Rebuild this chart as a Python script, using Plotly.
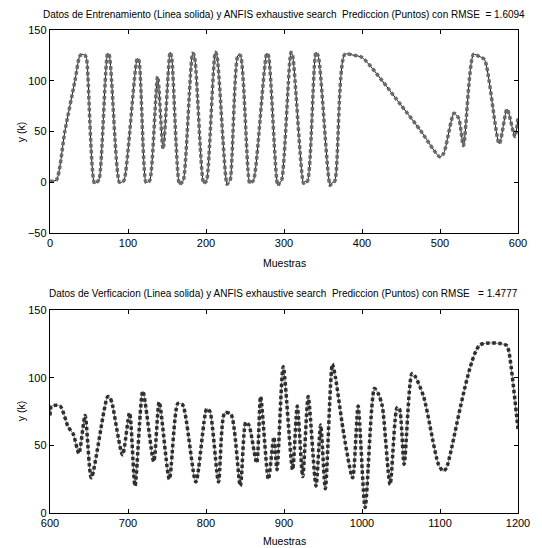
import plotly.graph_objects as go

# Training data (samples 0-600): vertices
train_x = [0, 8, 19, 32, 38, 41, 45, 47, 57, 60, 63, 74, 76, 89, 92, 95, 112, 114,
           123, 125, 128, 138, 145, 154, 156, 166, 168, 171, 183, 185, 197, 199, 201,
           212, 214, 227, 229, 231, 241, 244, 256, 258, 261, 278, 280, 292, 294, 297,
           309, 311, 325, 327, 330, 341, 344, 359, 361, 365, 378, 390, 400, 450, 475,
           500, 505, 518, 524, 530, 543, 550, 557, 576, 586, 596, 600]
train_y = [1, 2, 50, 100, 124, 126, 125, 121, -1, 0, 3, 127, 125, 0, 0, 2, 122, 120,
           0, 0, 2, 104, 33, 128, 123, -2, -1, 2, 127, 125, -1, 0, 2,
           128, 125, -2, 0, 2, 125, 125, -1, 0, 2, 127, 125, -3, -1, 2,
           128, 125, -1, 1, 1, 128, 124, -3, -1, 1, 126, 125, 123, 76, 51,
           25, 29, 68, 63, 36, 126, 124, 121, 38, 72, 45, 63]

# Verification data (samples 600-1200)
ver_x = [600, 602, 613, 623, 630, 637, 645, 653, 674, 677, 680, 693, 702, 709, 719,
         733, 740, 753, 764, 770, 787, 801, 805, 816, 824, 832, 844, 851, 855, 865,
         870, 880, 887, 891, 899, 911, 917, 924, 931, 941, 947, 953, 962, 966, 977,
         988, 995, 1004, 1016, 1021, 1026, 1036, 1045, 1048, 1054, 1064, 1068, 1079,
         1098, 1104, 1108, 1151, 1185, 1188, 1200]
ver_y = [72, 79, 79, 64, 58, 44, 72, 26, 86, 85, 80, 43, 74, 20, 90,
         38, 82, 25, 81, 80, 23, 77, 75, 23, 74, 73, 20, 67, 65, 37,
         86, 25, 56, 32, 108, 32, 79, 27, 86, 20, 65, 18, 110, 100, 57,
         26, 79, 4, 92, 88, 79, 21, 78, 77, 36, 103, 101, 86,
         36, 31, 33, 124, 124, 120, 62]

top_title = "Datos de Entrenamiento (Linea solida) y ANFIS exhaustive search  Prediccion (Puntos) con RMSE  = 1.6094"
bot_title = "Datos de Verficacion (Linea solida) y ANFIS exhaustive search  Prediccion (Puntos) con RMSE   = 1.4777"

FONT = "Liberation Sans, Arial, sans-serif"
SM = 0.7

fig = go.Figure()
# top: line black, dots gray
fig.add_trace(go.Scatter(x=train_x, y=train_y, mode="lines", xaxis="x", yaxis="y",
                         line=dict(color="#111111", width=1, shape="spline", smoothing=SM),
                         showlegend=False, hoverinfo="skip"))
fig.add_trace(go.Scatter(x=train_x, y=train_y, mode="lines", xaxis="x", yaxis="y",
                         line=dict(color="#6a6a6a", width=3.5, shape="spline", smoothing=SM,
                                   dash="3.5px,2.5px"),
                         showlegend=False, hoverinfo="skip"))
# bottom: line gray, dots dark
fig.add_trace(go.Scatter(x=ver_x, y=ver_y, mode="lines", xaxis="x2", yaxis="y2",
                         line=dict(color="#777777", width=1, shape="spline", smoothing=SM),
                         showlegend=False, hoverinfo="skip"))
fig.add_trace(go.Scatter(x=ver_x, y=ver_y, mode="lines", xaxis="x2", yaxis="y2",
                         line=dict(color="#2e2e2e", width=3.5, shape="spline", smoothing=SM,
                                   dash="3.5px,2.5px"),
                         showlegend=False, hoverinfo="skip"))

ax_common = dict(showline=True, linecolor="black", linewidth=1.4, mirror="ticks",
                 ticks="inside", ticklen=4, tickcolor="black", showgrid=False,
                 zeroline=False, tickfont=dict(family=FONT, size=11, color="black"))

fig.update_layout(
    width=542, height=548,
    margin=dict(l=50, r=20, t=30, b=35),
    paper_bgcolor="white", plot_bgcolor="white",
    xaxis=dict(domain=[0, 1], range=[0, 600], tickvals=[0, 100, 200, 300, 400, 500, 600],
               anchor="y", **ax_common),
    yaxis=dict(domain=[0.5797, 1], range=[-50, 150], tickvals=[-50, 0, 50, 100, 150],
               anchor="x", **ax_common),
    xaxis2=dict(domain=[0, 1], range=[600, 1200],
                tickvals=[600, 700, 800, 900, 1000, 1100, 1200], anchor="y2", **ax_common),
    yaxis2=dict(domain=[0, 0.4203], range=[0, 150], tickvals=[0, 50, 100, 150],
                anchor="x2", **ax_common),
)

H = 483.0
W = 472.0
def py(p):  # pixel y from top -> paper y
    return (548 - 35 - p) / H
def px(p):
    return (p - 50) / W

def ann(text, x, y, size=11, angle=0):
    return dict(text=text, x=px(x), y=py(y), xref="paper", yref="paper",
                xanchor="center", yanchor="middle", showarrow=False, textangle=angle,
                font=dict(family=FONT, size=size, color="black"))

fig.update_layout(annotations=[
    ann(top_title, 286, 14, size=10),
    ann(bot_title, 285, 294, size=10),
    ann("Muestras", 286, 263, size=10.5),
    ann("Muestras", 286, 541, size=10.5),
    ann("y (k)", 21, 132, size=10.5, angle=-90),
    ann("y (k)", 21, 411, size=10.5, angle=-90),
])

fig.write_html("out.html")
